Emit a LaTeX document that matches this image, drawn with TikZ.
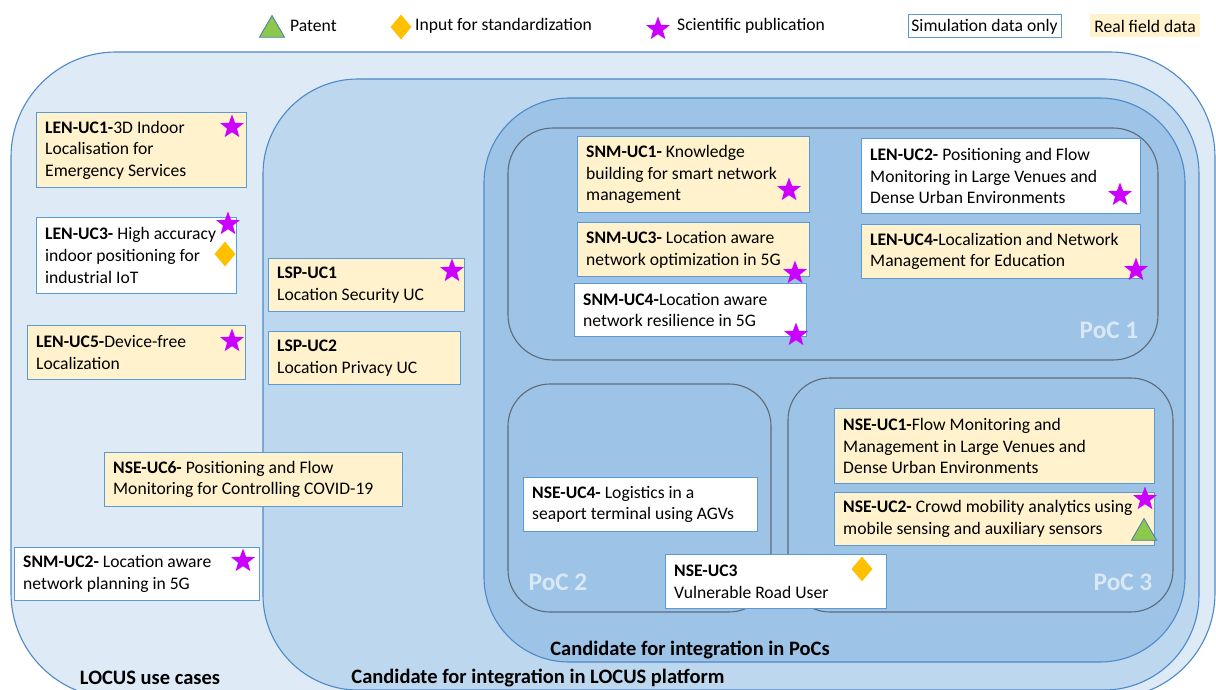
\documentclass[tikz,border=0pt]{standalone}
\usepackage{fontspec}
\setmainfont{Carlito}
\usetikzlibrary{shapes.geometric,calc}
\definecolor{cA}{HTML}{DEEBF7}
\definecolor{cB}{HTML}{BDD7EE}
\definecolor{cC}{HTML}{9DC3E6}
\definecolor{cbord}{HTML}{4E8AC8}
\definecolor{ucbord}{HTML}{5B9BD5}
\definecolor{cream}{HTML}{FFF2CC}
\definecolor{pocbord}{HTML}{5F6B78}
\definecolor{starc}{HTML}{CC00FF}
\definecolor{stdc}{HTML}{FFC000}
\definecolor{patc}{HTML}{8CC84B}
\definecolor{patb}{HTML}{4A7AA8}
\definecolor{poclab}{HTML}{DAE8F5}
\newcommand\ucbox[7]{%
  \node[ucb, fill=#6, minimum width=#4pt, minimum height=#5pt, anchor=north west] (#1) at (#2,#3) {};
  \node[uct, anchor=west] (#1t) at ($(#1.west)+(9,0)$) {#7};
}
\begin{document}
\begin{tikzpicture}[x=1pt,y=-1pt,
  cont/.style={draw=cbord, line width=1.1pt},
  pocb/.style={draw=pocbord, line width=1.1pt, fill=cC},
  ucb/.style={draw=ucbord, line width=1.1pt, inner sep=0pt},
  uct/.style={align=left, inner sep=0pt, font=\fontsize{17.6}{21.6}\selectfont},
  lg/.style={inner sep=0pt, font=\fontsize{17.6}{21.6}\selectfont},
  clab/.style={inner sep=0pt, font=\fontsize{20.5}{24}\selectfont\bfseries},
  poclabel/.style={inner sep=0pt, text=poclab, font=\fontsize{25.3}{29}\selectfont\bfseries},
  pub/.style={star, star points=5, star point ratio=2.4, fill=starc, draw=none, minimum size=25pt, inner sep=0pt},
  stdm/.style={diamond, fill=stdc, draw=none, minimum width=21pt, minimum height=25pt, inner sep=0pt},
  patm/.style={regular polygon, regular polygon sides=3, fill=patc, draw=patb, line width=0.8pt, minimum size=29pt, inner sep=0pt}
]
\useasboundingbox (0,0) rectangle (1216,690);
\fill[white] (0,0) rectangle (1216,690);
% containers
\begin{scope}
\clip (0,0) rectangle (1216,690);
\draw[cont, fill=cA, rounded corners=105pt] (11,52) rectangle (1215,698);
\draw[cont, fill=cB, rounded corners=95pt] (263,79) rectangle (1199,690);
\draw[cont, fill=cC, rounded corners=85pt] (484,98) rectangle (1185,662);
\end{scope}
% PoC boxes
\draw[pocb, rounded corners=45pt] (508,128) rectangle (1158,360);
\draw[pocb, rounded corners=42pt] (508,384) rectangle (771,612);
\draw[pocb, rounded corners=42pt] (788,378) rectangle (1173,612);
\node[poclabel] (poc1) at (1109,330) {PoC 1};
\node[poclabel] (poc2) at (558,582) {PoC 2};
\node[poclabel] (poc3) at (1123,582) {PoC 3};
% container labels
\node[clab] (lab1) at (150,678) {LOCUS use cases};
\node[clab] (lab2) at (538,678) {Candidate for integration in LOCUS platform};
\node[clab] (lab3) at (690,650) {Candidate for integration in PoCs};
% use case boxes
\ucbox{lenuc1}{36}{112}{210}{75}{cream}{\textbf{LEN-UC1-}3D Indoor\\Localisation for\\Emergency Services}
\ucbox{lenuc3}{36}{217}{200}{76}{white}{\textbf{LEN-UC3-} High accuracy\\indoor positioning for\\industrial IoT}
\ucbox{lenuc5}{27}{325}{218}{54}{cream}{\textbf{LEN-UC5-}Device-free\\Localization}
\ucbox{lspuc1}{268}{258}{196}{53}{cream}{\textbf{LSP-UC1}\\Location Security UC}
\ucbox{lspuc2}{268}{331}{192}{53}{cream}{\textbf{LSP-UC2}\\Location Privacy UC}
\ucbox{nseuc6}{104}{452}{298}{54}{cream}{\textbf{NSE-UC6-} Positioning and Flow\\Monitoring for Controlling COVID-19}
\ucbox{snmuc2}{14}{547}{245}{53}{white}{\textbf{SNM-UC2-} Location aware\\network planning in 5G}
\ucbox{snmuc1}{577}{136}{232}{76}{cream}{\textbf{SNM-UC1-} Knowledge\\building for smart network\\management}
\ucbox{snmuc3}{577}{222}{232}{54}{cream}{\textbf{SNM-UC3-} Location aware\\network optimization in 5G}
\ucbox{snmuc4}{574}{283}{232}{53}{white}{\textbf{SNM-UC4-}Location aware\\network resilience in 5G}
\ucbox{lenuc2}{861}{138}{279}{75}{white}{\textbf{LEN-UC2-} Positioning and Flow\\Monitoring in Large Venues and\\Dense Urban Environments}
\ucbox{lenuc4}{861}{224}{279}{54}{cream}{\textbf{LEN-UC4-}Localization and Network\\Management for Education}
\ucbox{nseuc1}{834}{408}{320}{75}{cream}{\textbf{NSE-UC1-}Flow Monitoring and\\Management in Large Venues and\\Dense Urban Environments}
\ucbox{nseuc2}{834}{492}{320}{53}{cream}{\textbf{NSE-UC2-} Crowd mobility analytics using\\mobile sensing and auxiliary sensors}
\ucbox{nseuc4}{523}{477}{234}{54}{white}{\textbf{NSE-UC4-} Logistics in a\\seaport terminal using AGVs}
\ucbox{nseuc3}{665}{554}{221}{54}{white}{\textbf{NSE-UC3}\\Vulnerable Road User}
% markers
\node[pub] (s1) at (232,127) {};
\node[pub] (s2) at (228,224) {};
\node[stdm] (d1) at (225,254) {};
\node[pub] (s3) at (232,341) {};
\node[pub] (s4) at (452,271) {};
\node[pub] (s5) at (243,561) {};
\node[pub] (s6) at (789,190) {};
\node[pub] (s7) at (795,273) {};
\node[pub] (s8) at (796,335) {};
\node[pub] (s9) at (1120,195) {};
\node[pub] (s10) at (1136,270) {};
\node[pub] (s11) at (1145,499) {};
\node[patm] (t1) at (1144,533) {};
\node[stdm] (d2) at (862,569) {};
% legend
\node[patm] (lt) at (272,30) {};
\node[lg, anchor=west] (ltx) at (290,26) {Patent};
\node[stdm] (ld) at (401,27) {};
\node[lg, anchor=west] (ldx) at (415,26) {Input for standardization};
\node[pub] (ls) at (658,29) {};
\node[lg, anchor=west] (lsx) at (677,26) {Scientific publication};
\node[lg, draw=ucbord, line width=1pt, fill=white, minimum width=153pt, minimum height=23pt] (lsim) at (984.5,26.5) {Simulation data only};
\node[lg, fill=cream, minimum width=110pt, minimum height=23pt] (lreal) at (1145,26) {Real field data};
\end{tikzpicture}
\end{document}
